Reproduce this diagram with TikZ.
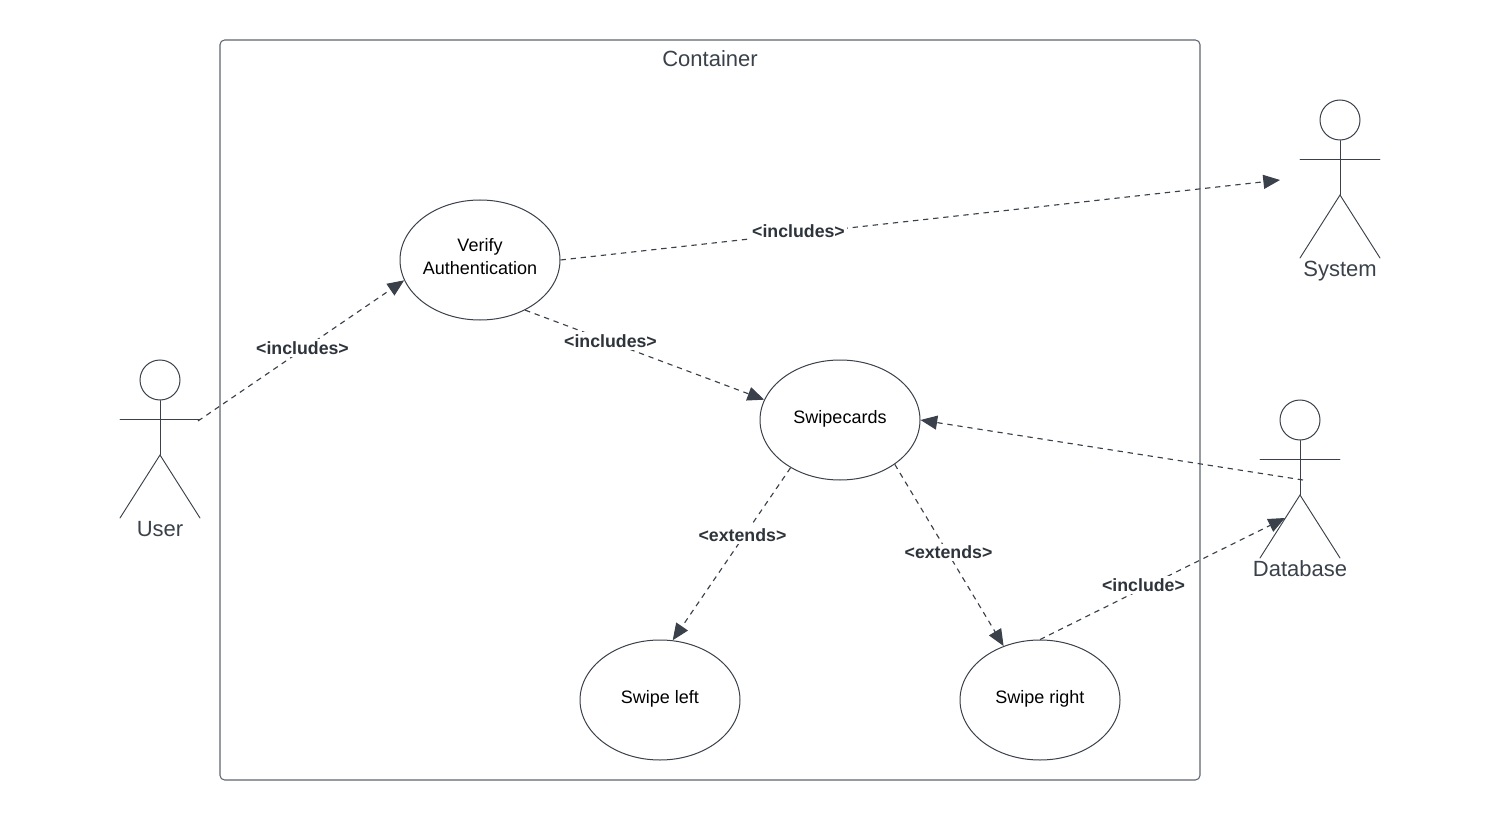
\documentclass[tikz,border=0pt]{standalone}
\usepackage{fontspec}
\setmainfont{Liberation Sans}
\usetikzlibrary{arrows.meta,shapes.geometric}
\definecolor{ink}{HTML}{3A414A}
\definecolor{frame}{HTML}{5E6570}
\tikzset{
  x=0.75pt,y=-0.75pt,
  usecase/.style={draw=ink,line width=0.75pt,ellipse,minimum width=120pt,minimum height=90pt,inner sep=0pt},
  casetext/.style={align=center,font=\fontsize{13.5pt}{16pt}\selectfont,text=black,inner sep=0pt},
  limb/.style={draw=ink,line width=0.7pt,line cap=round},
  head/.style={draw=ink,line width=0.75pt,circle,minimum size=30pt,inner sep=0pt},
  actorname/.style={font=\fontsize{16.5pt}{20pt}\selectfont,text=ink,inner sep=0pt,anchor=base},
  flow/.style={draw=ink,line width=0.85pt,dash pattern=on 4pt off 3.6pt,-{Triangle[length=12.5pt,width=10.5pt,fill=ink]}},
  flowlabel/.style={fill=white,inner sep=1.5pt,font=\bfseries\fontsize{13.3pt}{16pt}\selectfont,text=ink!80!black},
}
\newcommand{\actor}[4]{% name, x, y of head centre, label
  \node[head] (#1head) at (#2,#3) {};
  \coordinate (#1hip) at (#2,#3+75);
  \coordinate (#1la) at (#2-40,#3+39);
  \coordinate (#1ra) at (#2+40,#3+39);
  \coordinate (#1lf) at (#2-40,#3+138);
  \coordinate (#1rf) at (#2+40,#3+138);
  \draw[limb] (#1head.south) -- (#1hip);
  \draw[limb] (#1la) -- (#1ra);
  \draw[limb] (#1lf) -- (#1hip) -- (#1rf);
  \node[actorname] (#1name) at (#2,#3+156.5) {#4};
}
\begin{document}
\begin{tikzpicture}
\useasboundingbox (0,0) rectangle (1500,820);
\node[draw=frame,line width=0.8pt,rounded corners=3.5pt,minimum width=735pt,minimum height=555pt,inner sep=0pt] (box) at (710,410) {};
\node[actorname] (boxname) at (710,66.7) {Container};

\actor{user}{160}{380}{User}
\actor{system}{1340}{120}{System}
\actor{db}{1300}{420}{Database}

\node[usecase] (verify) at (480,260) {};
\node[usecase] (swipe) at (840,420) {};
\node[usecase] (left) at (660,700) {};
\node[usecase] (right) at (1040,700) {};
\node[casetext] (verifyt) at (480,256.7) {Verify\\[1pt]Authentication};
\node[casetext] (swipet) at (840,418.5) {Swipecards};
\node[casetext] (leftt) at (660,698.5) {Swipe left};
\node[casetext] (rightt) at (1040,698.5) {Swipe right};

\coordinate (userhand) at (198,421);
\coordinate (systemin) at (1280,180);
\coordinate (dbout) at (1303,480);
\coordinate (dbin) at (1285,518);

\draw[flow] (userhand) -- (verify.195.6);
\draw[flow] (verify.east) -- (systemin);
\draw[flow] (verify.-48.6) -- (swipe.165.3);
\draw[flow] (dbout) -- (swipe.east);
\draw[flow] (swipe.-136.2) -- (left.78.7);
\draw[flow] (swipe.-39.9) -- (right.124.4);
\draw[flow] (right.north) -- (dbin);

\node[flowlabel] (l1) at (302.5,348) {<includes>};
\node[flowlabel] (l2) at (798.5,231) {<includes>};
\node[flowlabel] (l3) at (610.5,341) {<includes>};
\node[flowlabel] (l4) at (742.5,535) {<extends>};
\node[flowlabel] (l5) at (948.5,552.5) {<extends>};
\node[flowlabel] (l6) at (1143.5,585) {<include>};
\end{tikzpicture}
\end{document}
